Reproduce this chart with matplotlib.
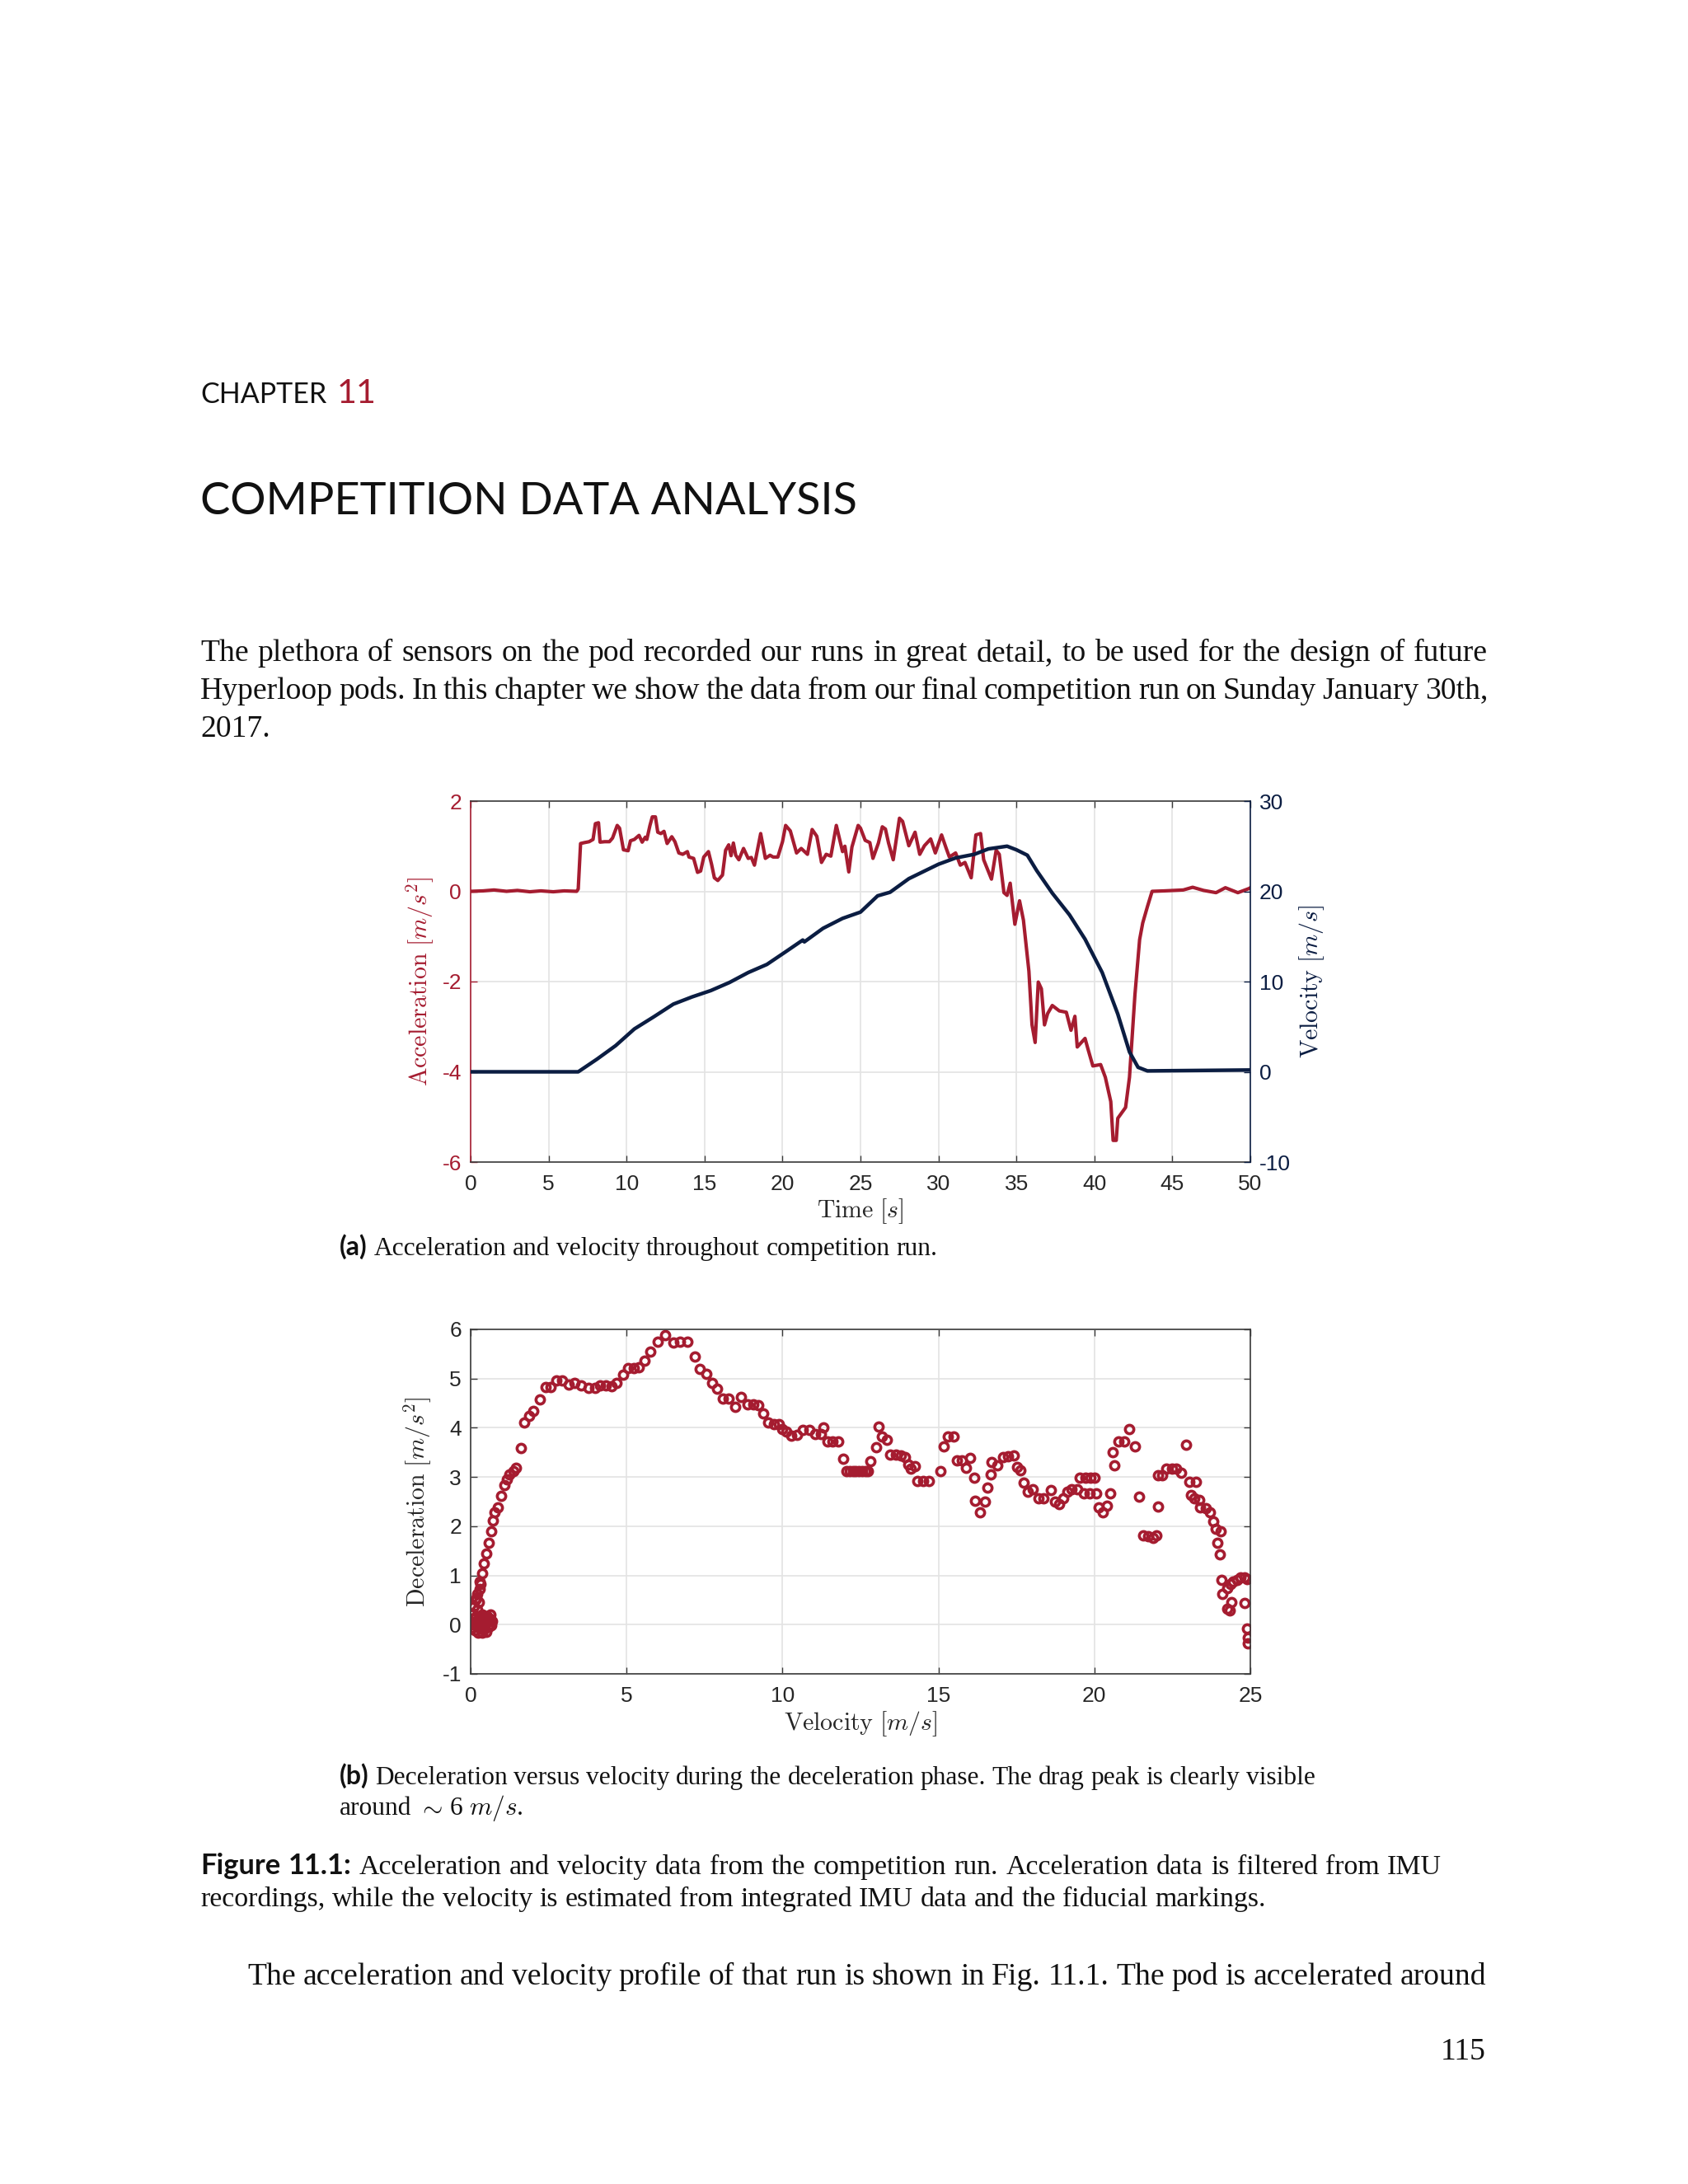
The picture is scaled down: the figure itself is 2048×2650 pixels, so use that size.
import matplotlib
matplotlib.use('Agg')
import matplotlib.pyplot as plt

W, H = 2048, 2650
RED = '#A51C30'
NAVY = '#0B1D42'
DARK = '#262626'

plt.rcParams['mathtext.fontset'] = 'cm'
plt.rcParams['axes.unicode_minus'] = False
plt.rcParams['font.family'] = ['Liberation Sans', 'DejaVu Sans']

# (a) acceleration [m/s^2] over time [s]
time_s = [0, 0.8, 1.5, 2.3, 3.0, 3.8, 4.5, 5.3, 6.0, 6.8, 6.9, 7.05, 7.3, 7.6, 7.85, 8.0, 8.2, 8.3,
          8.6, 8.9, 9.1, 9.4, 9.55, 9.8, 10.1, 10.25, 10.5, 10.8, 11.0, 11.2, 11.3, 11.5, 11.65,
          11.85, 12.0, 12.2, 12.4, 12.6, 12.9, 13.1, 13.35, 13.6, 13.9, 14.0, 14.3, 14.55, 14.75,
          14.95, 15.25, 15.45, 15.63, 15.85, 16.15, 16.35, 16.55, 16.7, 16.85, 17.0, 17.2, 17.5,
          17.8, 18.0, 18.2, 18.6, 18.9, 19.2, 19.4, 19.7, 20.0, 20.2, 20.5, 20.9, 21.2, 21.6, 21.9,
          22.2, 22.5, 22.8, 23.1, 23.45, 23.85, 24.0, 24.25, 24.45, 24.85, 25.0, 25.3, 25.6, 25.8,
          26.15, 26.4, 26.6, 26.8, 27.1, 27.5, 27.7, 28.1, 28.5, 28.8, 29.1, 29.5, 29.8, 30.2,
          30.5, 30.7, 31.1, 31.4, 31.7, 32.1, 32.4, 32.7, 32.9, 33.4, 33.7, 33.9, 34.2, 34.4,
          34.6, 34.9, 35.2, 35.45, 35.8, 36.0, 36.2, 36.4, 36.6, 36.8, 37.0, 37.3, 37.75, 38.2,
          38.5, 38.75, 38.9, 39.4, 39.6, 39.9, 40.4, 40.7, 41.05, 41.2, 41.4, 41.5, 42.0, 42.25,
          42.6, 42.9, 43.1, 43.4, 43.7, 44.5, 45.7, 46.3, 47.0, 47.8, 48.4, 49.2, 49.9, 50.0]
accel = [0.0, 0.01, 0.03, 0.0, 0.02, -0.01, 0.01, -0.01, 0.01, 0.0, 0.05, 1.06, 1.08, 1.1, 1.15,
         1.5, 1.52, 1.09, 1.1, 1.1, 1.18, 1.46, 1.4, 0.92, 0.9, 1.12, 1.15, 1.24, 1.09, 1.2, 1.15,
         1.46, 1.65, 1.65, 1.31, 1.28, 1.33, 1.06, 1.21, 1.1, 0.85, 0.82, 0.88, 0.76, 0.73, 0.42,
         0.45, 0.76, 0.88, 0.6, 0.30, 0.24, 0.36, 0.91, 1.03, 0.79, 1.07, 0.8, 0.7, 0.95, 0.73,
         0.75, 0.58, 1.28, 0.73, 0.8, 0.76, 0.76, 1.1, 1.46, 1.34, 0.85, 0.95, 0.82, 1.37, 1.22,
         0.64, 0.82, 0.78, 1.46, 0.88, 1.0, 0.43, 0.98, 1.46, 1.4, 1.13, 1.08, 0.73, 1.07, 1.43,
         1.38, 1.07, 0.70, 1.62, 1.55, 1.01, 1.31, 0.82, 1.01, 1.16, 0.85, 1.25, 0.95, 0.76, 0.85,
         0.58, 0.64, 0.30, 1.25, 1.28, 0.70, 0.27, 0.91, 0.82, -0.03, -0.09, 0.18, -0.73, -0.21,
         -0.64, -1.77, -2.96, -3.35, -2.01, -2.16, -2.96, -2.71, -2.53, -2.65, -2.68, -3.08,
         -2.77, -3.45, -3.26, -3.51, -3.87, -3.84, -4.12, -4.66, -5.52, -5.52, -5.03, -4.79,
         -4.12, -2.29, -1.07, -0.70, -0.34, 0.0, 0.01, 0.03, 0.09, 0.02, -0.03, 0.08, -0.03,
         0.06, 0.08]

# (a) velocity [m/s] over time [s]
vel_time = [0, 6.9, 8.1, 9.3, 10.5, 11.75, 13.0, 14.2, 15.4, 16.6, 17.8, 19.0, 20.2, 21.3, 21.4,
            22.6, 23.85, 25.0, 26.1, 26.9, 28.1, 30.0, 31.1, 32.3, 33.2, 34.4, 35.0, 35.7, 36.3,
            37.3, 38.4, 39.4, 40.5, 41.5, 42.25, 42.8, 43.4, 50.0]
vel = [0, 0, 1.4, 2.9, 4.75, 6.1, 7.5, 8.3, 9.0, 9.9, 11.0, 11.9, 13.3, 14.6, 14.4, 15.9, 17.0,
       17.7, 19.5, 19.9, 21.4, 23.0, 23.7, 24.1, 24.7, 25.0, 24.6, 24.0, 22.3, 19.8, 17.4, 14.7,
       11.0, 6.4, 2.2, 0.5, 0.1, 0.2]

# (b) deceleration [m/s^2] versus velocity [m/s]
dec_vel = [0.02, 0.04, 0.06, 0.08, 0.10, 0.11, 0.13, 0.15, 0.16, 0.18, 0.20, 0.21, 0.23, 0.25,
           0.26, 0.28, 0.30, 0.31, 0.33, 0.35, 0.37, 0.38, 0.40, 0.43, 0.45, 0.48, 0.50, 0.52,
           0.55, 0.57, 0.60, 0.62, 0.64, 0.66, 0.68,
           0.19, 0.28, 0.37, 0.41, 0.50, 0.59, 0.65, 0.72, 0.77, 0.86, 0.97, 1.08, 1.16, 1.25,
           1.38, 1.46, 1.60, 1.72, 1.87, 2.00, 2.22, 2.40, 2.57, 2.75, 2.93, 3.15, 3.32, 3.54,
           3.77, 3.99, 4.16, 4.34, 4.51, 4.69, 4.89, 5.04, 5.22, 5.40, 5.57, 5.75, 6.00, 6.23,
           6.50, 6.72, 6.94, 7.18, 7.34, 7.56, 7.73, 7.91, 8.09, 8.26, 8.47, 8.66, 8.88, 9.06,
           9.23, 9.38, 9.54, 9.72, 9.89, 9.98, 10.11, 10.29, 10.47, 10.64, 10.86, 11.04, 11.22,
           11.31, 11.44, 11.61, 11.79, 11.95, 12.05, 12.15, 12.25, 12.35, 12.45, 12.55, 12.65,
           12.75, 12.82, 13.00, 13.08, 13.19, 13.35, 13.45, 13.63, 13.80, 13.94, 14.02, 14.11,
           14.25, 14.33, 14.51, 14.69, 15.07, 15.17, 15.30, 15.48, 15.58, 15.74, 15.88, 16.01,
           16.14, 16.18, 16.34, 16.49, 16.56, 16.67, 16.71, 16.89, 17.07, 17.24, 17.42, 17.51,
           17.64, 17.72, 17.86, 18.03, 18.21, 18.38, 18.61, 18.74, 18.87, 19.00, 19.13, 19.27,
           19.44, 19.53, 19.71, 19.88, 20.01, 19.66, 19.84, 20.06, 20.14, 20.28, 20.41, 20.50,
           20.59, 20.63, 20.77, 20.95, 21.12, 21.29, 21.42, 21.56, 21.73, 21.87, 21.98, 22.04,
           22.04, 22.17, 22.30, 22.48, 22.61, 22.79, 22.95, 23.05, 23.25, 23.10, 23.19, 23.36,
           23.40, 23.58, 23.71, 23.80, 23.89, 24.04, 23.95, 24.01, 24.07, 24.11, 24.25, 24.33,
           24.25, 24.37, 24.45, 24.59, 24.38, 24.67, 24.81, 24.90, 24.81, 24.90, 24.92, 24.92]
dec_acc = [0.00, 0.12, -0.06, 0.22, 0.05, 0.38, -0.12, 0.15, 0.50, -0.03, 0.30, 0.62, 0.08,
           -0.16, 0.45, 0.72, 0.18, -0.08, 0.82, 0.05, -0.17, 0.20, 0.10, -0.10, 0.15, 0.02,
           -0.14, 0.18, 0.06, -0.05, 0.12, 0.00, 0.20, -0.02, 0.08,
           0.54, 0.88, 1.05, 1.24, 1.44, 1.66, 1.89, 2.11, 2.28, 2.39, 2.61, 2.84, 2.95, 3.06,
           3.12, 3.18, 3.59, 4.10, 4.24, 4.35, 4.57, 4.82, 4.82, 4.96, 4.96, 4.88, 4.91, 4.86,
           4.81, 4.81, 4.86, 4.86, 4.85, 4.91, 5.08, 5.22, 5.22, 5.23, 5.37, 5.55, 5.75, 5.89,
           5.74, 5.75, 5.75, 5.44, 5.19, 5.10, 4.91, 4.80, 4.60, 4.60, 4.43, 4.62, 4.47, 4.47,
           4.46, 4.29, 4.10, 4.08, 4.08, 3.98, 3.93, 3.84, 3.86, 3.96, 3.96, 3.87, 3.87, 4.00,
           3.73, 3.73, 3.73, 3.37, 3.12, 3.12, 3.12, 3.12, 3.12, 3.12, 3.12, 3.12, 3.32, 3.61,
           4.02, 3.82, 3.76, 3.45, 3.45, 3.44, 3.40, 3.26, 3.17, 3.22, 2.92, 2.92, 2.92, 3.12,
           3.63, 3.82, 3.83, 3.33, 3.33, 3.18, 3.39, 2.99, 2.51, 2.28, 2.50, 2.79, 3.06, 3.31,
           3.23, 3.40, 3.42, 3.44, 3.20, 3.14, 2.88, 2.70, 2.75, 2.56, 2.56, 2.73, 2.50, 2.45,
           2.56, 2.70, 2.75, 2.75, 2.98, 2.98, 2.98, 2.98, 2.67, 2.67, 2.67, 2.39, 2.28, 2.42,
           2.67, 3.51, 3.24, 3.73, 3.73, 3.98, 3.63, 2.60, 1.82, 1.80, 1.77, 1.82, 2.40, 3.03,
           3.03, 3.17, 3.17, 3.17, 3.09, 3.65, 2.90, 2.90, 2.64, 2.56, 2.53, 2.38, 2.36, 2.28,
           2.10, 1.94, 1.89, 1.66, 1.42, 0.91, 0.63, 0.32, 0.29, 0.74, 0.82, 0.88, 0.91, 0.46,
           0.96, 0.96, 0.93, 0.44, -0.08, -0.27, -0.38]

fig = plt.figure(figsize=(W / 100, H / 100), dpi=100)
fig.patch.set_facecolor('white')
renderer = fig.canvas.get_renderer()


def box(left, top, right, bottom):
    return [left / W, 1 - bottom / H, (right - left) / W, (bottom - top) / H]


def style_axes(ax):
    ax.grid(True, color='#E3E3E3', lw=1.2)
    ax.set_axisbelow(True)
    for s in ax.spines.values():
        s.set_color('#3A3A3A')
        s.set_linewidth(1.2)
    ax.tick_params(direction='in', length=6, width=1.0, labelsize=19, color='#3A3A3A',
                   labelcolor=DARK, top=True)
    ax.tick_params(axis='x', pad=11)
    ax.tick_params(axis='y', pad=8)


# ---- chart (a)
ax1 = fig.add_axes(box(571, 972, 1517, 1410))
style_axes(ax1)
ax1.plot(time_s, accel, color=RED, lw=3.0)
ax1.set_xlim(0, 50)
ax1.set_ylim(-6, 2)
ax1.set_xticks(range(0, 51, 5))
ax1.set_yticks([-6, -4, -2, 0, 2])
ax1.tick_params(axis='y', colors=RED, labelcolor=RED)
ax1.spines['left'].set_color(RED)
ax1.spines['right'].set_visible(False)

ax2 = ax1.twinx()
ax2.plot(vel_time, vel, color=NAVY, lw=3.2)
ax2.set_ylim(-10, 30)
ax2.set_yticks([-10, 0, 10, 20, 30])
ax2.tick_params(direction='in', length=6, width=1.0, labelsize=19, colors=NAVY, pad=8)
for name, s in ax2.spines.items():
    s.set_visible(name == 'right')
ax2.spines['right'].set_color(NAVY)
ax2.spines['right'].set_linewidth(1.2)

ax1.text(-0.0645, 0.5, r'$\mathrm{Acceleration}\ [m/s^2]$', transform=ax1.transAxes,
         rotation=90, ha='center', va='center', fontsize=21.5, color=RED)
ax1.text(1.079, 0.5, r'$\mathrm{Velocity}\ [m/s]$', transform=ax1.transAxes,
         rotation=90, ha='center', va='center', fontsize=21.5, color=NAVY)
fig.text(1044 / W, 1 - 1470 / H, r'$\mathrm{Time}\ [s]$', ha='center', va='center',
         fontsize=21.5, color=DARK)

# ---- chart (b)
ax3 = fig.add_axes(box(571, 1613, 1517, 2031))
style_axes(ax3)
ax3.tick_params(right=True)
ax3.plot(dec_vel, dec_acc, 'o', mfc='none', mec=RED, ms=7.4, mew=2.6)
ax3.set_xlim(0, 25)
ax3.set_ylim(-1, 6)
ax3.set_xticks(range(0, 26, 5))
ax3.set_yticks(range(-1, 7))
ax3.text(-0.0677, 0.5, r'$\mathrm{Deceleration}\ [m/s^2]$', transform=ax3.transAxes,
         rotation=90, ha='center', va='center', fontsize=21.5, color=DARK)
fig.text(1044 / W, 1 - 2092 / H, r'$\mathrm{Velocity}\ [m/s]$', ha='center', va='center',
         fontsize=21.5, color=DARK)

# ---- page text
SERIF = ['Liberation Serif', 'DejaVu Serif']
SANS = ['Lato', 'DejaVu Sans']


def width_of(s, **kw):
    t = fig.text(0, 0, s, **kw)
    w = t.get_window_extent(renderer).width
    t.remove()
    return w


def fit(s, target, **kw):
    return 10 * target / width_of(s, fontsize=10, **kw)


def put_line(runs, x0, y, width=None):
    # runs: list of (text, style); words are spread to fill width when given
    words = []
    for s, kw in runs:
        for w in s.split(' '):
            if w:
                words.append((w, kw))
    ws = [width_of(w, **kw) for w, kw in words]
    if width is not None and len(words) > 1:
        gap = (width - sum(ws)) / (len(words) - 1)
    else:
        gap = width_of('a a', **words[0][1]) - width_of('aa', **words[0][1])
    x = x0
    for (w, kw), wd in zip(words, ws):
        fig.text(x / W, 1 - y / H, w, va='baseline', ha='left', **kw)
        x += wd + gap


ch_size = fit('CHAPTER', 152, family=SANS)
fig.text(243 / W, 1 - 489 / H, 'CHAPTER', family=SANS, fontsize=ch_size,
         color='#111111', va='baseline')
fig.text(409 / W, 1 - 489 / H, '11', family=SANS, fontsize=ch_size * 1.22,
         color=RED, va='baseline')
title = 'COMPETITION DATA ANALYSIS'
fig.text(243 / W, 1 - 624 / H, title, family=SANS,
         fontsize=fit(title, 790, family=SANS), color='#111111', va='baseline')

para1 = ['The plethora of sensors on the pod recorded our runs in great detail, to be used for the design of future',
         'Hyperloop pods. In this chapter we show the data from our final competition run on Sunday January 30th,',
         '2017.']
body = dict(family=SERIF, fontsize=fit(para1[0], 1540, family=SERIF), color='#111111')
put_line([(para1[0], body)], 243, 802, 1562)
put_line([(para1[1], body)], 243, 848, 1562)
put_line([(para1[2], body)], 243, 894)

sub = dict(family=SERIF, color='#111111',
           fontsize=fit('Deceleration versus velocity during the deceleration phase. The drag peak is clearly visible',
                        1140, family=SERIF))
subb = dict(family=SANS, weight='bold', color='#111111', fontsize=sub['fontsize'] * 1.02)
put_line([('(a)', subb), ('Acceleration and velocity throughout competition run.', sub)], 412, 1523)
put_line([('(b)', subb), ('Deceleration versus velocity during the deceleration phase. The drag peak is clearly visible', sub)],
         412, 2165, 1184)
put_line([('around', sub), (r'$\sim$', sub), ('6', sub), (r'$m/s$.', sub)], 412, 2202)

cap_line1 = 'Acceleration and velocity data from the competition run. Acceleration data is filtered from IMU'
cap = dict(family=SERIF, color='#111111', fontsize=fit(cap_line1, 1300, family=SERIF))
capb = dict(family=SANS, weight='bold', color='#111111', fontsize=cap['fontsize'] * 1.02)
put_line([('Figure 11.1:', capb), (cap_line1, cap)], 243, 2274, 1506)
put_line([('recordings, while the velocity is estimated from integrated IMU data and the fiducial markings.', cap)],
         243, 2313)

put_line([('The acceleration and velocity profile of that run is shown in Fig. 11.1. The pod is accelerated around', body)],
         300, 2408, 1503)
fig.text(1803 / W, 1 - 2499 / H, '115', ha='right', va='baseline', **body)

fig.savefig('out.png', dpi=100, facecolor='white')
